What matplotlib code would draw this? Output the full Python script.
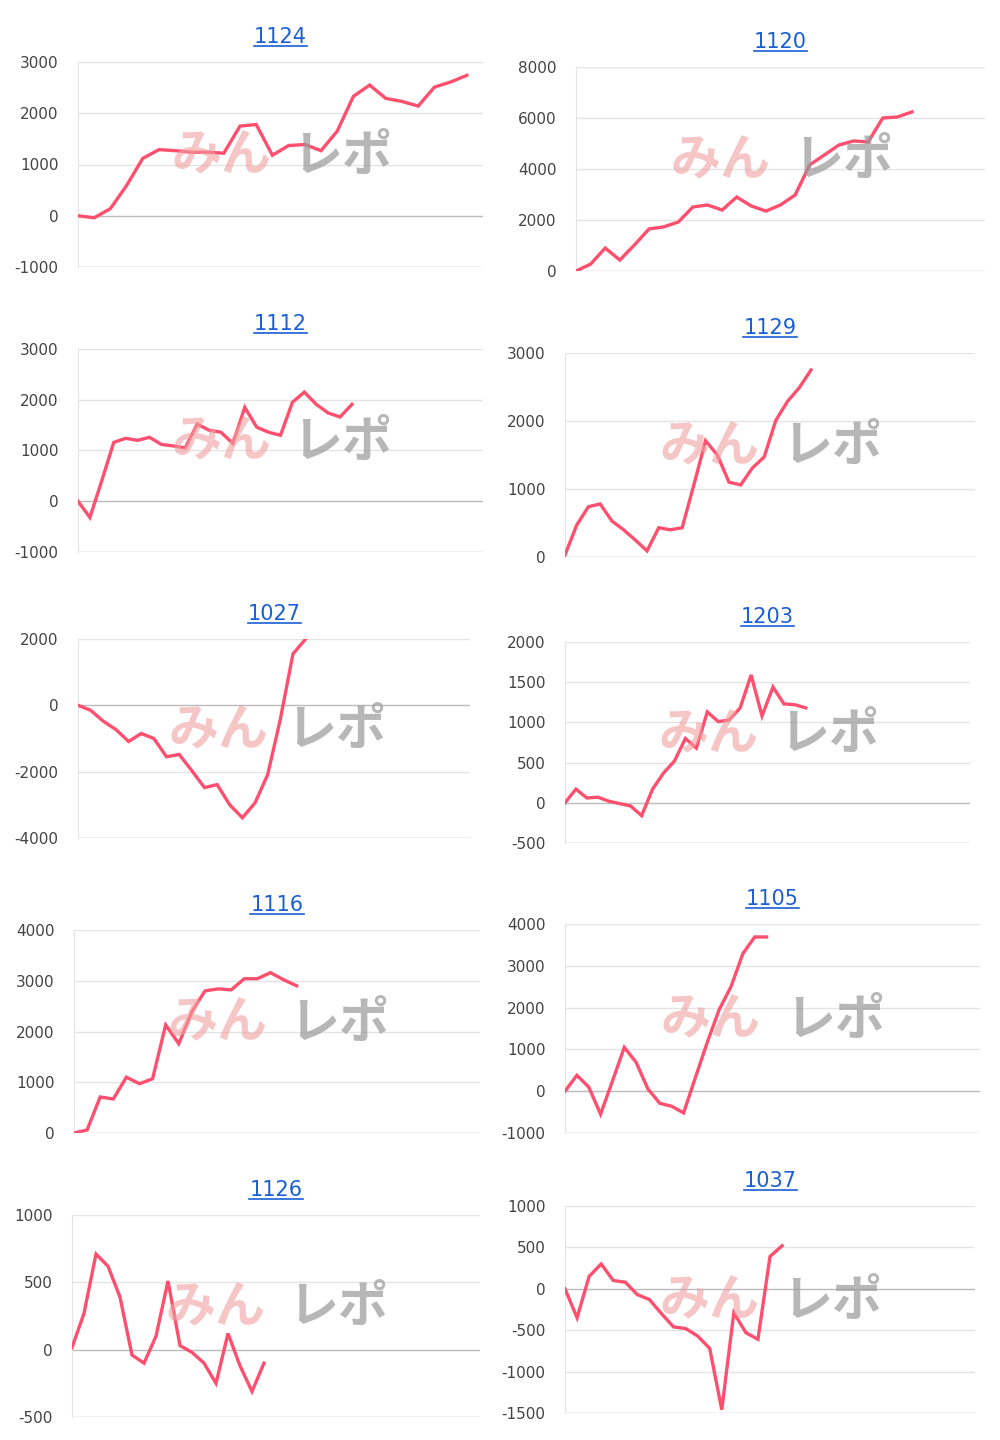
import matplotlib
matplotlib.use("Agg")
import matplotlib.pyplot as plt

plt.rcParams['font.family'] = ['DejaVu Sans', 'Noto Sans CJK JP']

# chart values
titles = ["1124", "1120", "1112", "1129", "1027", "1203", "1116", "1105", "1126", "1037"]
s1124 = [0, -40, 140, 590, 1120, 1290, 1270, 1240, 1240, 1220, 1750, 1780, 1180, 1370,
         1390, 1270, 1650, 2330, 2550, 2290, 2230, 2140, 2510, 2610, 2740]
s1120 = [0, 270, 900, 430, 1020, 1650, 1730, 1920, 2510, 2590, 2390, 2900, 2550, 2350,
         2590, 2980, 4160, 4550, 4940, 5100, 5060, 6000, 6040, 6240]
s1112 = [0, -320, 410, 1160, 1240, 1200, 1260, 1120, 1090, 1050, 1520, 1400, 1360, 1140,
         1850, 1460, 1360, 1300, 1950, 2150, 1910, 1740, 1660, 1910]
s1129 = [30, 470, 740, 780, 530, 400, 250, 90, 430, 400, 430, 1060, 1710, 1500, 1100,
         1060, 1310, 1470, 2010, 2290, 2490, 2750]
s1027 = [0, -150, -480, -730, -1090, -850, -1000, -1550, -1480, -1970, -2480, -2390,
         -3000, -3390, -2940, -2090, -420, 1550, 2000]
s1203 = [0, 170, 60, 70, 20, -10, -40, -160, 170, 370, 520, 800, 680, 1130, 1010, 1030,
         1180, 1590, 1080, 1440, 1230, 1220, 1180]
s1116 = [0, 60, 710, 670, 1100, 970, 1070, 2130, 1760, 2390, 2800, 2840, 2820, 3040,
         3040, 3160, 3020, 2900]
s1105 = [0, 380, 100, -550, 240, 1050, 690, 50, -290, -360, -520, 330, 1170, 1950, 2500,
         3290, 3690, 3690]
s1126 = [15, 270, 710, 620, 390, -40, -100, 100, 510, 30, -20, -100, -250, 120, -120,
         -310, -100]
s1037 = [0, -350, 150, 300, 100, 80, -70, -130, -300, -460, -480, -570, -720, -1460,
         -290, -530, -610, 390, 520]
series = [s1124, s1120, s1112, s1129, s1027, s1203, s1116, s1105, s1126, s1037]
slots = [25, 28, 34, 35, 31, 37, 31, 35, 34, 34]
ylims = [(-1000, 3000), (0, 8000), (-1000, 3000), (0, 3000), (-4000, 2000),
         (-500, 2000), (0, 4000), (-1000, 4000), (-500, 1000), (-1500, 1000)]
steps = [1000, 2000, 1000, 1000, 2000, 500, 1000, 1000, 500, 500]

# pixel boxes of each plot area: x0, x1, y_top, y_bottom
boxes = [(78, 483, 62, 267), (576, 985, 67, 271), (78, 483, 349, 552),
         (565, 975, 353, 557), (78, 470, 639, 838), (565, 970, 642, 843),
         (74, 480, 930, 1133), (565, 980, 924, 1133), (72, 480, 1215, 1417),
         (565, 975, 1206, 1413)]

W, H = 1000, 1440
fig = plt.figure(figsize=(W / 100, H / 100), dpi=100)

for i in range(10):
    x0, x1, yt, yb = boxes[i]
    ax = fig.add_axes([x0 / W, 1 - yb / H, (x1 - x0) / W, (yb - yt) / H])
    lo, hi = ylims[i]
    ticks = list(range(lo, hi + 1, steps[i]))
    ax.set_xlim(0, slots[i])
    ax.set_ylim(lo, hi)
    ax.set_yticks(ticks)
    ax.set_yticklabels([str(t) for t in ticks], fontsize=11, color='#444444')
    ax.set_xticks([])
    ax.tick_params(axis='y', length=0, pad=14)
    for t in ticks:
        ax.axhline(t, color='#bbbbbb' if t == 0 or t == lo else '#e4e4e4',
                   lw=1, zorder=1)
    for side in ['top', 'right', 'bottom']:
        ax.spines[side].set_visible(False)
    ax.spines['left'].set_color('#e4e4e4')

    ax.plot(range(len(series[i])), series[i], color='#ff4f6e', lw=2.4, zorder=3,
            solid_joinstyle='miter')

    # watermark
    ax.text(0.23, 0.54, 'みん', transform=ax.transAxes, fontsize=36, fontweight='bold',
            style='italic', color='#f0a0a0', alpha=0.6, va='center',
            family=['Noto Sans CJK JP'], zorder=4)
    ax.text(0.53, 0.54, 'レポ', transform=ax.transAxes, fontsize=36, fontweight='bold',
            style='italic', color='#999999', alpha=0.7, va='center',
            family=['Noto Sans CJK JP'], zorder=4)

    ax.set_title(titles[i], fontsize=15, color='#1a5fd6', pad=14)
    fig.canvas.draw()

# underline titles
renderer = fig.canvas.get_renderer()
for ax in fig.axes:
    bb = ax.title.get_window_extent(renderer)
    fig.add_artist(plt.Line2D([bb.x0 / W, bb.x1 / W], [bb.y0 / H + 0.0005] * 2,
                              transform=fig.transFigure, color='#1a5fd6', lw=1.2))

fig.savefig('out.png', dpi=100)
